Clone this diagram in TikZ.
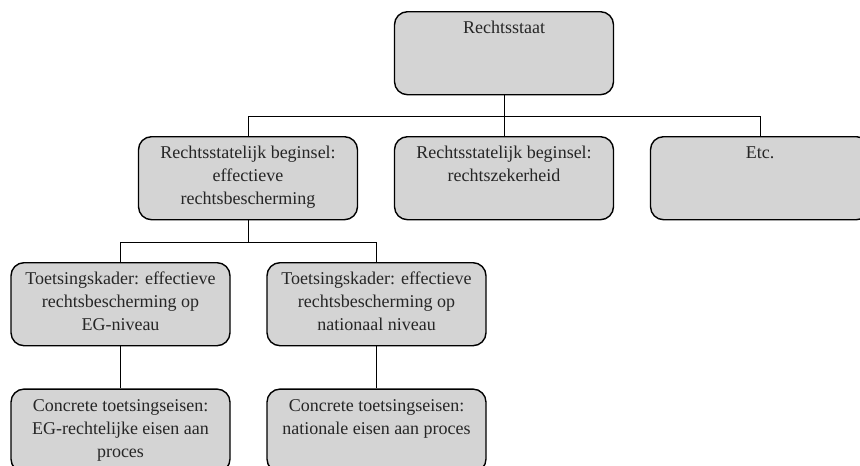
\documentclass[tikz,border=0pt]{standalone}
\usepackage{fontspec}
\setmainfont{Liberation Serif}
\usetikzlibrary{positioning}
\definecolor{boxgray}{RGB}{212,212,212}
\newcommand{\boxtext}[1]{\parbox[t][71pt][t]{207pt}{\centering\strut #1}}
\tikzset{
  orgbox/.style={draw=black, line width=1.4pt, fill=boxgray, rounded corners=13pt, inner sep=6pt, anchor=north, font=\fontsize{18}{23}\selectfont, text=black!85},
  link/.style={draw=black, line width=0.8pt}
}

\begin{document}
\begin{tikzpicture}[x=1pt,y=-1pt]
	\useasboundingbox (0,0) rectangle (860,466);
	\clip (0,0) rectangle (860,466);
	\node [orgbox] (staat) at (504,11) {\boxtext{Rechtsstaat}};
	\node [orgbox] (rb) at (248,136) {\boxtext{Rechtsstatelijk beginsel:\\ effectieve\\ rechtsbescherming}};
	\node [orgbox] (rz) at (504,136) {\boxtext{Rechtsstatelijk beginsel:\\ rechtszekerheid}};
	\node [orgbox] (etc) at (760,136) {\boxtext{Etc.}};
	\node [orgbox] (kadereg) at (120.5,262) {\boxtext{Toetsingskader: effectieve\\ rechtsbescherming op\\ EG-niveau}};
	\node [orgbox] (kadernat) at (376.5,262) {\boxtext{Toetsingskader: effectieve\\ rechtsbescherming op\\ nationaal niveau}};
	\node [orgbox, below=42pt of kadereg] (eisen_eg) {\boxtext{Concrete toetsingseisen:\\ EG-rechtelijke eisen aan\\ proces}};
	\node [orgbox, below=42pt of kadernat] (eisen_nat) {\boxtext{Concrete toetsingseisen:\\ nationale eisen aan proces}};
	\coordinate (bus1) at (504,116);
	\coordinate (bus2) at (248,242);
	\draw [link] (staat.south) -- (bus1) -| (rb.north);
	\draw [link] (bus1) -| (etc.north);
	\draw [link] (bus1) -- (rz.north);
	\draw [link] (rb.south) -- (bus2) -| (kadereg.north);
	\draw [link] (bus2) -| (kadernat.north);
	\draw [link] (kadereg.south) -- (eisen_eg.north);
	\draw [link] (kadernat.south) -- (eisen_nat.north);
\end{tikzpicture}
\end{document}
